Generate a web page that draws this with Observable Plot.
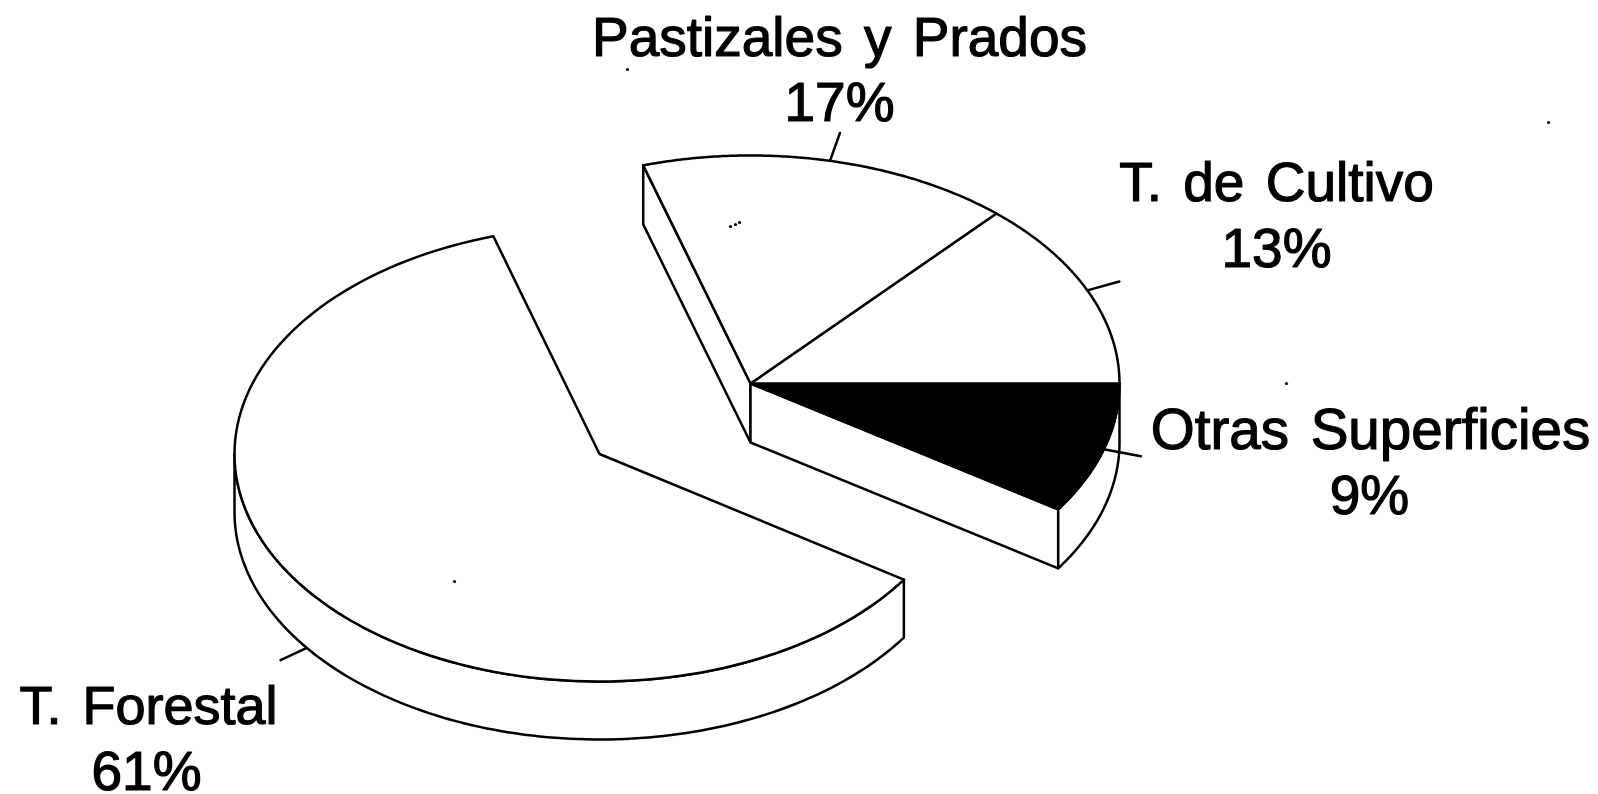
<!DOCTYPE html>
<html lang="es">
<head>
<meta charset="utf-8">
<script src="https://cdn.jsdelivr.net/npm/d3@7"></script>
<script src="https://cdn.jsdelivr.net/npm/@observablehq/plot@0.6"></script>
<style>
html,body{margin:0;padding:0;background:#fff;overflow:hidden}
svg{display:block}
svg text{word-spacing:6px}
</style>
</head>
<body>
<div id="chart"></div>
<script>
// Data
const categories = ["Otras Superficies", "T. de Cultivo", "Pastizales y Prados", "T. Forestal"];
const printed = [9, 13, 17, 61];           // the percentages as printed
const measured = [9.3, 13.4, 16.3, 61];    // the slice sizes
const fills = ["#000", "#fff", "#fff", "#fff"];

// Layout
const W = 1598, H = 794;
const startAngle = -33.5;
const nearRx = 369, farRx = 365, ry = 228, farRy = 227.5, nearDepth = 59, farDepth = 58;
const nearCentre = [750, 383];
const farCentre = [599, 453.5];
const labelX = [1370, 1276, 839, 148];
const labelY = [448, 200, 55, 723];
const shareX = [1369, 1276, 839, 146];
const shareY = [513, 266, 120, 789];
const labelSize = [56.5, 55, 55, 54];
const leaderK = [1.105, 1.095, 1.125, 1.09];
const specksX = [1548, 1286, 454, 627, 730, 735, 739];
const specksY = [122, 383, 581, 69, 226, 224, 222];

const rad = Math.PI / 180;
const shape = (c, rx, ryy) => ({c, rx, ry: ryy});
const near = shape(nearCentre, nearRx, ry);
const farG = shape(farCentre, farRx, farRy);
const rim = (g, a, k = 1, dy = 0) => ({x: g.c[0] + k * g.rx * Math.cos(a * rad), y: g.c[1] - k * g.ry * Math.sin(a * rad) + dy});
const arc = (g, a0, a1, dy = 0) => d3.range(0, 121).map(i => rim(g, a0 + (a1 - a0) * i / 120, 1, dy));
const hub = (g, dy = 0) => ({x: g.c[0], y: g.c[1] + dy});
const closed = pts => [...pts, pts[0]];

// Slice angles from the measured sizes
let acc = startAngle;
const slices = categories.map((name, i) => {
  const a0 = acc, a1 = acc + measured[i] * 3.6;
  acc = a1;
  return {name, printed: printed[i], fill: fills[i], a0, a1, mid: (a0 + a1) / 2, g: i === 3 ? farG : near};
});
const nearStart = slices[0].a0, nearEnd = slices[2].a1;
const far = slices[3];

const shapes = [];
const add = (pts, fill = "#fff") => shapes.push({pts: closed(pts), fill});
// near group walls
add([hub(near), rim(near, nearEnd), rim(near, nearEnd, 1, nearDepth), hub(near, nearDepth)]);
add([hub(near), rim(near, nearStart), rim(near, nearStart, 1, nearDepth), hub(near, nearDepth)]);
add([...arc(near, nearStart, 0), ...arc(near, 0, nearStart, nearDepth)]);
// far slice wall
add([...arc(farG, 180, far.a1), ...arc(farG, far.a1, 180, farDepth)]);
// tops
for (const s of slices) add([hub(s.g), ...arc(s.g, s.a0, s.a1)], s.fill);

// Leader lines at each slice's mid angle
const leaders = slices.flatMap((s, i) => {
  const dy = i === 3 ? farDepth : 0;
  return [{i, ...rim(s.g, s.mid, 1, dy)}, {i, ...rim(s.g, s.mid, leaderK[i], dy)}];
});

const labels = slices.flatMap((s, i) => [
  {t: s.name, x: labelX[i], y: labelY[i], size: labelSize[i]},
  {t: s.printed + "%", x: shareX[i], y: shareY[i], size: 55}
]);
const specks = specksX.map((x, i) => ({x, y: specksY[i]}));

const plot = Plot.plot({
  width: W, height: H, margin: 0,
  style: {background: "#fff"},
  x: {domain: [0, W], range: [0, W], axis: null},
  y: {domain: [0, H], range: [0, H], axis: null},
  marks: [
    ...shapes.map(s => Plot.line(s.pts, {x: "x", y: "y", fill: s.fill, stroke: "#000", strokeWidth: 2.5, strokeLinejoin: "round"})),
    Plot.line(leaders, {x: "x", y: "y", z: "i", stroke: "#000", strokeWidth: 2.5}),
    Plot.dot(specks, {x: "x", y: "y", r: 1.6, fill: "#000"}),
    Plot.text(labels, {x: "x", y: "y", text: "t", fontSize: d => d.size, fontFamily: "Liberation Sans", fill: "#000", stroke: "#000", strokeWidth: 1.2, textAnchor: "middle", lineAnchor: "bottom"})
  ]
});
document.getElementById("chart").append(plot);
</script>
</body>
</html>
